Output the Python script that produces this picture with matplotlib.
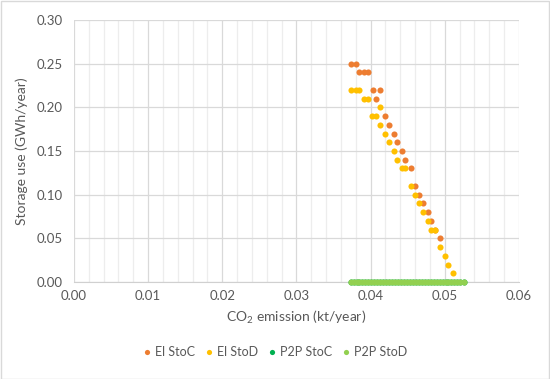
import matplotlib
matplotlib.use('Agg')
import matplotlib.pyplot as plt
import matplotlib.ticker as mticker
from matplotlib.patches import Rectangle

plt.rcParams['font.family'] = ['Lato', 'DejaVu Sans']
plt.rcParams['mathtext.default'] = 'regular'

# El StoC (orange)
el_stoc_x = [0.0373, 0.0380, 0.0385, 0.0391, 0.0397, 0.0403, 0.0412, 0.0407, 0.0419, 0.0425,
             0.0431, 0.0436, 0.0443, 0.0447, 0.0454, 0.0460, 0.0465, 0.0471, 0.0477, 0.0482,
             0.0487, 0.0494]
el_stoc_y = [0.25, 0.25, 0.24, 0.24, 0.24, 0.22, 0.22, 0.21, 0.19, 0.18,
             0.17, 0.16, 0.15, 0.14, 0.13, 0.11, 0.10, 0.09, 0.08, 0.07,
             0.06, 0.05]

# El StoD (gold)
el_stod_x = [0.0373, 0.0380, 0.0385, 0.0391, 0.0397, 0.0413, 0.0402, 0.0407, 0.0413, 0.0419,
             0.0425, 0.0431, 0.0436, 0.0443, 0.0447, 0.0454, 0.0460, 0.0465, 0.0471, 0.0477,
             0.0482, 0.0487, 0.0494, 0.0500, 0.0505, 0.0511]
el_stod_y = [0.22, 0.22, 0.22, 0.21, 0.21, 0.20, 0.19, 0.19, 0.18, 0.17,
             0.16, 0.15, 0.14, 0.13, 0.13, 0.11, 0.10, 0.09, 0.08, 0.07,
             0.06, 0.06, 0.04, 0.03, 0.02, 0.01]

# P2P StoC / StoD (all zero, dense run along the x axis)
p2p_x = [0.0373, 0.0377, 0.0381, 0.0385, 0.0389, 0.0393, 0.0397, 0.0401, 0.0405, 0.0409,
         0.0413, 0.0417, 0.0421, 0.0425, 0.0429, 0.0433, 0.0437, 0.0441, 0.0445, 0.0449,
         0.0453, 0.0457, 0.0461, 0.0465, 0.0469, 0.0473, 0.0477, 0.0481, 0.0485, 0.0489,
         0.0493, 0.0497, 0.0501, 0.0505, 0.0509, 0.0513, 0.0517, 0.0521, 0.0526]
p2p_stoc_y = [0.0] * len(p2p_x)
p2p_stod_y = [0.0] * len(p2p_x)

txt = '#595959'
fig = plt.figure(figsize=(5.5, 3.79), dpi=100)
ax = fig.add_axes([0.1345, 0.256, 0.809, 0.691])

ms = 4.4
ax.plot(el_stoc_x, el_stoc_y, 'o', color='#ED7D31', ms=ms, mew=0, label='El StoC', zorder=3)
ax.plot(el_stod_x, el_stod_y, 'o', color='#FFC000', ms=ms, mew=0, label='El StoD', zorder=4)
ax.plot(p2p_x, p2p_stoc_y, 'o', color='#00B050', ms=ms, mew=0, label='P2P StoC', zorder=5, clip_on=False)
ax.plot(p2p_x, p2p_stod_y, 'o', color='#92D050', ms=ms, mew=0, label='P2P StoD', zorder=6, clip_on=False)

ax.set_xlim(0, 0.06)
ax.set_ylim(0, 0.30)
ax.xaxis.set_major_locator(mticker.MultipleLocator(0.01))
ax.xaxis.set_minor_locator(mticker.MultipleLocator(0.002))
ax.yaxis.set_major_locator(mticker.MultipleLocator(0.05))
ax.xaxis.set_major_formatter(mticker.FormatStrFormatter('%.2f'))
ax.yaxis.set_major_formatter(mticker.FormatStrFormatter('%.2f'))

ax.grid(which='major', color='#D9D9D9', lw=0.9)
ax.grid(which='minor', axis='x', color='#EDEDED', lw=0.9)
ax.set_axisbelow(True)
for s in ['top', 'right', 'left']:
    ax.spines[s].set_visible(False)
ax.spines['bottom'].set_color('#D0D0D0')
ax.tick_params(which='both', length=0, colors=txt, labelsize=9.5)
ax.tick_params(axis='x', pad=6)
ax.tick_params(axis='y', pad=8)

ax.set_xlabel('CO$_2$ emission (kt/year)', color=txt, fontsize=10, labelpad=5)
ax.set_ylabel('Storage use (GWh/year)', color=txt, fontsize=10, labelpad=6)

# legend centred on the whole figure, like Excel does
leg = fig.legend(*ax.get_legend_handles_labels(), loc='center', bbox_to_anchor=(0.5, 0.071),
                 ncol=4, frameon=False, fontsize=9, handlelength=0.6, handletextpad=0.35,
                 columnspacing=0.8, markerscale=0.85)
for t in leg.get_texts():
    t.set_color(txt)

fig.patches.append(Rectangle((0.001, 0.001), 0.997, 0.997, transform=fig.transFigure,
                             fill=False, edgecolor='#D9D9D9', lw=1))

fig.savefig('out.png', dpi=100)
